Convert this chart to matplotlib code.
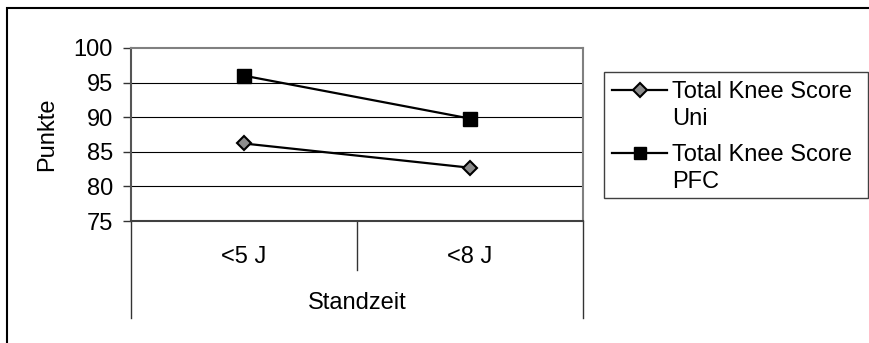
import matplotlib
matplotlib.use("Agg")
import matplotlib.pyplot as plt
from matplotlib.patches import Rectangle
from matplotlib.lines import Line2D

plt.rcParams["font.family"] = ["Liberation Sans", "DejaVu Sans"]
plt.rcParams["font.size"] = 17

categories = ["<5 J", "<8 J"]
uni_scores = [86.2, 82.7]
pfc_scores = [96.0, 89.8]
series_labels = ["Total Knee Score\nUni", "Total Knee Score\nPFC"]
y_ticks = [75, 80, 85, 90, 95, 100]

W, H = 869, 343
fig = plt.figure(figsize=(W / 100, H / 100), dpi=100)

# outer chart frame (top/left visible, rest runs off the canvas)
fig.patches.append(Rectangle((7.5 / W, -0.1), 1.2, 1 - 7.5 / H + 0.1,
                             transform=fig.transFigure, fill=False,
                             edgecolor="black", lw=1.5))

ax = fig.add_axes([131 / W, 1 - 221 / H, 452 / W, 173 / H])
x = list(range(len(categories)))

ax.plot(x, uni_scores, color="black", lw=1.6, marker="D", ms=7.5,
        mfc="#8c8c8c", mec="black", mew=1.5, zorder=3)
ax.plot(x, pfc_scores, color="black", lw=1.6, marker="s", ms=10,
        mfc="black", mec="black", zorder=3)

ax.set_xlim(-0.5, len(categories) - 0.5)
ax.set_ylim(75, 100)
ax.set_yticks(y_ticks)
ax.set_xticks([])
for yv in y_ticks[1:-1]:
    ax.axhline(yv, color="black", lw=0.8, zorder=1)

for side in ("top", "right"):
    ax.spines[side].set_color("#808080")
    ax.spines[side].set_linewidth(1.5)
ax.spines["left"].set_color("#555555")
ax.spines["left"].set_linewidth(1.5)
ax.spines["bottom"].set_color("#404040")
ax.spines["bottom"].set_linewidth(1.5)
ax.tick_params(axis="y", direction="out", length=6, width=1, color="#333333",
               pad=7)

ax.set_ylabel("Punkte")
ax.yaxis.set_label_coords(-0.161, 0.5)

# category axis below the plot area: group dividers and labels
trans = ax.get_xaxis_transform()
edges = [-0.5 + i for i in range(len(categories) + 1)]
for i, xe in enumerate(edges):
    low = -0.283 if 0 < i < len(categories) else -0.561
    ax.plot([xe, xe], [0, low], transform=trans, color="#333333", lw=1,
            clip_on=False)
for xi, cat in zip(x, categories):
    ax.text(xi, -0.208, cat, transform=trans, ha="center", va="center")
ax.text((len(categories) - 1) / 2, -0.474, "Standzeit", transform=trans,
        ha="center", va="center")

# legend box drawn in figure pixels
def fx(px):
    return px / W


def fy(py):
    return 1 - py / H


fig.patches.append(Rectangle((fx(604), fy(198)), fx(868 - 604), (198 - 72) / H,
                             transform=fig.transFigure, fill=False,
                             edgecolor="#404040", lw=1))
styles = [dict(marker="D", ms=7, mfc="#8c8c8c", mec="black", mew=1.5),
          dict(marker="s", ms=9, mfc="black", mec="black")]
for row_y, label, st in zip([90, 153], series_labels, styles):
    fig.add_artist(Line2D([fx(612), fx(667)], [fy(row_y), fy(row_y)],
                          transform=fig.transFigure, color="black", lw=1.6))
    fig.add_artist(Line2D([fx(640)], [fy(row_y)], transform=fig.transFigure,
                          color="black", lw=0, **st))
    fig.text(fx(672), fy(row_y - 9), label, ha="left", va="top",
             linespacing=1.32)

fig.savefig("out.png", dpi=100)
